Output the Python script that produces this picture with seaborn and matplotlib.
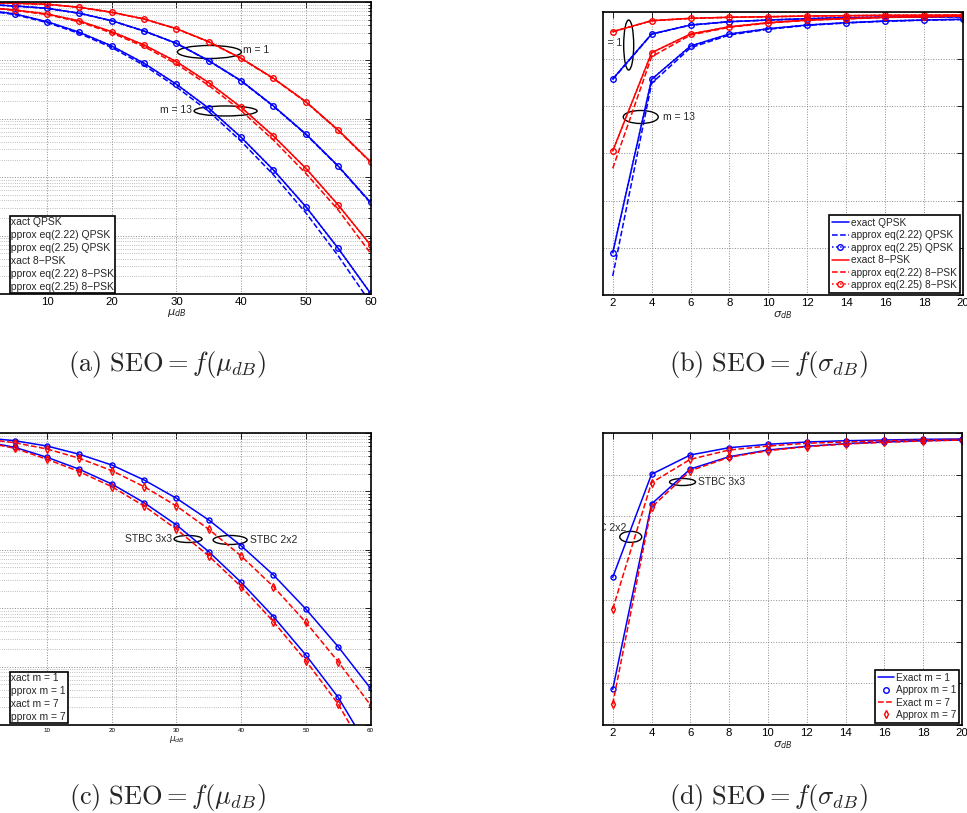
import numpy as np
import matplotlib
matplotlib.use("Agg")
import matplotlib.pyplot as plt
import seaborn as sns
from matplotlib.patches import Ellipse, Rectangle
from matplotlib.lines import Line2D
from matplotlib.transforms import IdentityTransform, Bbox, TransformedBbox
from matplotlib.ticker import LogLocator, NullLocator, NullFormatter, FixedLocator

# ---------------------------------------------------------------
# data (y values stored as log10 of SEO)
# ---------------------------------------------------------------
mu_db = [0, 5, 10, 15, 20, 25, 30, 35, 40, 45, 50, 55, 60]
sigma_db = [2, 4, 6, 8, 10, 12, 14, 16, 18, 20]

# (a) SEO vs mu_dB, m = 1 and m = 13
a_qpsk_m1_exact = [-0.040, -0.068, -0.108, -0.193, -0.320, -0.497, -0.707, -1.005, -1.348, -1.781, -2.260, -2.808, -3.430]
a_qpsk_m1_apx = [-0.040, -0.068, -0.109, -0.194, -0.322, -0.499, -0.710, -1.009, -1.353, -1.787, -2.267, -2.816, -3.440]
a_8psk_m1_exact = [-0.010, -0.022, -0.039, -0.091, -0.176, -0.291, -0.457, -0.680, -0.964, -1.307, -1.707, -2.192, -2.735]
a_8psk_m1_apx = [-0.010, -0.022, -0.040, -0.092, -0.177, -0.293, -0.459, -0.683, -0.968, -1.312, -1.713, -2.199, -2.744]
a_qpsk_m13_exact = [-0.130, -0.205, -0.337, -0.519, -0.753, -1.050, -1.409, -1.820, -2.317, -2.877, -3.505, -4.217, -4.988]
a_qpsk_m13_apx = [-0.140, -0.215, -0.352, -0.540, -0.780, -1.085, -1.455, -1.875, -2.385, -2.960, -3.610, -4.345, -5.150]
a_8psk_m13_exact = [-0.086, -0.137, -0.205, -0.325, -0.509, -0.736, -1.022, -1.382, -1.803, -2.295, -2.848, -3.476, -4.161]
a_8psk_m13_apx = [-0.090, -0.143, -0.215, -0.340, -0.530, -0.765, -1.060, -1.430, -1.860, -2.365, -2.935, -3.560, -4.300]

# (b) SEO vs sigma_dB, m = 1 and m = 13
b_qpsk_m1_exact = [-1.420, -0.466, -0.276, -0.205, -0.170, -0.142, -0.121, -0.110, -0.106, -0.102]
b_qpsk_m1_apx = [-1.430, -0.470, -0.278, -0.206, -0.171, -0.143, -0.122, -0.111, -0.107, -0.103]
b_8psk_m1_exact = [-0.418, -0.184, -0.134, -0.112, -0.100, -0.085, -0.078, -0.070, -0.068, -0.064]
b_8psk_m1_apx = [-0.420, -0.185, -0.135, -0.113, -0.101, -0.086, -0.079, -0.071, -0.069, -0.065]
b_qpsk_m13_exact = [-5.103, -1.427, -0.721, -0.466, -0.354, -0.276, -0.227, -0.191, -0.170, -0.155]
b_qpsk_m13_apx = [-5.597, -1.512, -0.757, -0.488, -0.366, -0.284, -0.233, -0.196, -0.174, -0.158]
b_8psk_m13_exact = [-2.947, -0.863, -0.466, -0.312, -0.227, -0.170, -0.142, -0.112, -0.100, -0.085]
b_8psk_m13_apx = [-3.314, -0.947, -0.488, -0.324, -0.235, -0.176, -0.146, -0.116, -0.103, -0.088]

# (c) STBC, SEO vs mu_dB
c_2x2_m1 = [-0.080, -0.132, -0.223, -0.365, -0.548, -0.805, -1.118, -1.490, -1.930, -2.432, -3.014, -3.659, -4.372]
c_2x2_m7 = [-0.100, -0.166, -0.274, -0.433, -0.645, -0.919, -1.250, -1.649, -2.106, -2.632, -3.241, -3.916, -4.658]
c_3x3_m1 = [-0.140, -0.245, -0.416, -0.622, -0.873, -1.193, -1.575, -2.033, -2.557, -3.146, -3.801, -4.526, -5.450]
c_3x3_m7 = [-0.150, -0.262, -0.450, -0.663, -0.919, -1.250, -1.649, -2.106, -2.632, -3.231, -3.899, -4.640, -5.600]

# (d) STBC, SEO vs sigma_dB
d_2x2_m1 = [-3.460, -0.990, -0.527, -0.352, -0.271, -0.216, -0.185, -0.168, -0.151, -0.144]
d_2x2_m7 = [-4.220, -1.192, -0.631, -0.408, -0.312, -0.247, -0.216, -0.185, -0.168, -0.151]
d_3x3_m1 = [-6.145, -1.702, -0.863, -0.568, -0.408, -0.319, -0.257, -0.216, -0.185, -0.168]
d_3x3_m7 = [-6.497, -1.781, -0.904, -0.583, -0.424, -0.328, -0.264, -0.223, -0.192, -0.168]

mu_ticks = [10, 20, 30, 40, 50, 60]
labels_ab = ["exact QPSK", "approx eq(2.22) QPSK", "approx eq(2.25) QPSK",
             "exact 8\u2212PSK", "approx eq(2.22) 8\u2212PSK", "approx eq(2.25) 8\u2212PSK"]
labels_cd = ["Exact m = 1", "Approx m = 1", "Exact m = 7", "Approx m = 7"]
captions = [r"$\mathrm{(a)\ SEO} = f(\mu_{dB})$", r"$\mathrm{(b)\ SEO} = f(\sigma_{dB})$",
            r"$\mathrm{(c)\ SEO} = f(\mu_{dB})$", r"$\mathrm{(d)\ SEO} = f(\sigma_{dB})$"]

BLUE = "#0000ff"
RED = "#ff0000"
TICK_FS = 8.2
FS = 7.5
LEG_FS = 7.3
LW = 1.1

sns.set_style("white")
plt.rcParams["font.family"] = ["Liberation Sans", "DejaVu Sans"]

W, H = 967, 813
fig = plt.figure(figsize=(W / 100, H / 100), dpi=100)


def px_axes(left, right, top, bottom):
    return fig.add_axes([left / W, 1 - bottom / H, (right - left) / W, (bottom - top) / H])


def curve(ax, x, ylog, color, ls="-", marker=None, ms=4.0):
    sns.lineplot(x=x, y=10.0 ** np.asarray(ylog), ax=ax, color=color, linestyle=ls,
                 marker=marker, markersize=ms, markerfacecolor="none",
                 markeredgecolor=color, markeredgewidth=1.0, linewidth=LW,
                 estimator=None, sort=False)


def style_axes(ax, xticks, ymin_dec, minor=True, xtick_fs=TICK_FS):
    ax.set_yscale("log")
    ax.set_ylim(10.0 ** ymin_dec, 1.0)
    ax.yaxis.set_major_locator(FixedLocator([10.0 ** k for k in range(ymin_dec, 1)]))
    if minor:
        ax.yaxis.set_minor_locator(LogLocator(base=10, subs=np.arange(2, 10), numticks=20))
    else:
        ax.yaxis.set_minor_locator(NullLocator())
    ax.yaxis.set_minor_formatter(NullFormatter())
    ax.set_xticks(xticks)
    ax.grid(True, which="major", linestyle=":", color="#8c8c8c", linewidth=0.7)
    if minor:
        ax.grid(True, which="minor", axis="y", linestyle=":", color="#a8a8a8", linewidth=0.6)
    ax.tick_params(which="both", direction="in", top=True, right=True,
                   labelleft=False, width=0.6, colors="black")
    ax.tick_params(which="major", length=4, labelsize=xtick_fs, pad=2)
    ax.tick_params(which="minor", length=2)
    for sp in ax.spines.values():
        sp.set_visible(True)
        sp.set_color("black")
        sp.set_linewidth(1.2)
    ax.set_ylabel("")


def ellipse(ax, x, ylog, w, h):
    cx, cy = ax.transData.transform((x, 10.0 ** ylog))
    ax.add_patch(Ellipse((cx, cy), w, h, transform=IdentityTransform(),
                         fill=False, edgecolor="black", linewidth=1.0))


def note(ax, x, ylog, s, ha):
    ax.text(x, 10.0 ** ylog, s, ha=ha, va="center", fontsize=FS, clip_on=True)


def legend(ax, handles, labels, right_px, bottom_px, hl=1.7):
    leg = ax.legend(handles, labels, loc="lower right",
                    bbox_to_anchor=(right_px / W, 1 - bottom_px / H),
                    bbox_transform=fig.transFigure, borderaxespad=0,
                    fontsize=LEG_FS, frameon=True, fancybox=False, framealpha=1,
                    edgecolor="black", handlelength=hl, handletextpad=0.2,
                    labelspacing=0.24, borderpad=0.3)
    leg.get_frame().set_linewidth(1.2)
    return leg


def cut_legend(ax, handles, labels, left_px, right_px, top_px, bottom_px, text_right, fs):
    # legend whose left part (handles and first letters) is trimmed off, as in the page
    ax.add_artist(Rectangle((left_px / W, 1 - bottom_px / H), (right_px - left_px) / W,
                            (bottom_px - top_px) / H, transform=fig.transFigure,
                            facecolor="white", edgecolor="black", linewidth=1.2,
                            zorder=4.9, clip_on=False))
    leg = ax.legend(handles, labels, loc="center right",
                    bbox_to_anchor=(text_right / W, 1 - (top_px + bottom_px) / 2 / H),
                    bbox_transform=fig.transFigure, borderaxespad=0,
                    fontsize=fs, frameon=False, handlelength=2.0, handletextpad=0.2,
                    labelspacing=0.27, borderpad=0.0)
    clip = TransformedBbox(Bbox([[(left_px + 0.8) / W, 0], [1, 1]]), fig.transFigure)
    for art in list(leg.get_texts()) + list(leg.legend_handles):
        art.set_clip_box(clip)
        art.set_clip_on(True)


h_ab = [Line2D([], [], color=BLUE, ls="-", lw=LW),
        Line2D([], [], color=BLUE, ls="--", lw=LW),
        Line2D([], [], color=BLUE, ls=":", lw=LW, marker="o", ms=4, mfc="none"),
        Line2D([], [], color=RED, ls="-", lw=LW),
        Line2D([], [], color=RED, ls="--", lw=LW),
        Line2D([], [], color=RED, ls=":", lw=LW, marker="o", ms=4, mfc="none")]
h_cd = [Line2D([], [], color=BLUE, ls="-", lw=LW),
        Line2D([], [], color=BLUE, ls="none", marker="o", ms=4, mfc="none"),
        Line2D([], [], color=RED, ls="--", lw=LW),
        Line2D([], [], color=RED, ls="none", marker="d", ms=4, mfc="none")]

# ---------------- (a) ----------------
ax = px_axes(-17.6, 370.5, 2, 294)
for ex, apx, col in [(a_qpsk_m1_exact, a_qpsk_m1_apx, BLUE), (a_8psk_m1_exact, a_8psk_m1_apx, RED),
                     (a_qpsk_m13_exact, a_qpsk_m13_apx, BLUE), (a_8psk_m13_exact, a_8psk_m13_apx, RED)]:
    curve(ax, mu_db, apx, col, "--")
    curve(ax, mu_db, ex, col, ":", "o")   # eq(2.25) coincides with exact
    curve(ax, mu_db, ex, col, "-")
style_axes(ax, mu_ticks, -5)
ax.set_xlim(0, 60)
ax.set_xlabel(r"$\mu_{dB}$", fontsize=TICK_FS, labelpad=0)
ellipse(ax, 35.1, -0.856, 64, 13)
note(ax, 40.3, -0.82, "m = 1", "left")
ellipse(ax, 37.6, -1.866, 63, 10)
note(ax, 32.4, -1.85, "m = 13", "right")
cut_legend(ax, h_ab, labels_ab, 10, 115, 216, 293, 113.5, 7.5)

# ---------------- (b) ----------------
ax = px_axes(603, 963, 12, 295)
for ex, apx, col in [(b_qpsk_m1_exact, b_qpsk_m1_apx, BLUE), (b_8psk_m1_exact, b_8psk_m1_apx, RED),
                     (b_qpsk_m13_exact, b_qpsk_m13_apx, BLUE), (b_8psk_m13_exact, b_8psk_m13_apx, RED)]:
    curve(ax, sigma_db, apx, col, "--")
    curve(ax, sigma_db, ex, col, ":", "o")
    curve(ax, sigma_db, ex, col, "-")
style_axes(ax, sigma_db, -6, minor=False)
ax.set_xlim(1.5, 20)
ax.set_xlabel(r"$\sigma_{dB}$", fontsize=TICK_FS, labelpad=1)
ellipse(ax, 2.82, -0.70, 10, 50)
note(ax, 2.51, -0.657, "m = 1", "right")
ellipse(ax, 3.44, -2.226, 35, 13)
note(ax, 4.57, -2.226, "m = 13", "left")
legend(ax, h_ab, labels_ab, 960, 293)

# ---------------- (c) ----------------
ax = px_axes(-17.6, 370.5, 433, 725)
for m1, m7 in [(c_2x2_m1, c_2x2_m7), (c_3x3_m1, c_3x3_m7)]:
    curve(ax, mu_db, m1, BLUE, "-", "o", 3.6)
    curve(ax, mu_db, m7, RED, "--", "d", 4.0)
style_axes(ax, mu_ticks, -5, xtick_fs=4.5)
ax.set_xlim(0, 60)
ax.set_xlabel(r"$\mu_{dB}$", fontsize=6.5, labelpad=1)
ellipse(ax, 31.8, -1.815, 28, 7)
note(ax, 29.35, -1.815, "STBC 3x3", "right")
ellipse(ax, 38.3, -1.832, 34, 9)
note(ax, 41.4, -1.832, "STBC 2x2", "left")
cut_legend(ax, h_cd, labels_cd, 10, 68, 672, 723, 66, 7.4)

# ---------------- (d) ----------------
ax = px_axes(603, 962, 433, 725)
for m1, m7 in [(d_2x2_m1, d_2x2_m7), (d_3x3_m1, d_3x3_m7)]:
    curve(ax, sigma_db, m1, BLUE, "-", "o", 3.6)
    curve(ax, sigma_db, m7, RED, "--", "d", 4.0)
style_axes(ax, sigma_db, -7, minor=False)
ax.set_xlim(1.5, 20)
ax.set_xlabel(r"$\sigma_{dB}$", fontsize=TICK_FS, labelpad=1)
ellipse(ax, 5.6, -1.175, 26, 7)
note(ax, 6.37, -1.175, "STBC 3x3", "left")
ellipse(ax, 2.93, -2.49, 22, 11)
note(ax, 2.72, -2.28, "STBC 2x2", "right")
legend(ax, h_cd, labels_cd, 959, 723, hl=1.5)

# ---------------- captions ----------------
for (cx, cy), cap in zip([(167, 364), (768, 364), (167, 797), (768, 797)], captions):
    fig.text(cx / W, 1 - cy / H, cap, ha="center", va="center", fontsize=19,
             math_fontfamily="cm")

fig.savefig("out.png", dpi=100)
